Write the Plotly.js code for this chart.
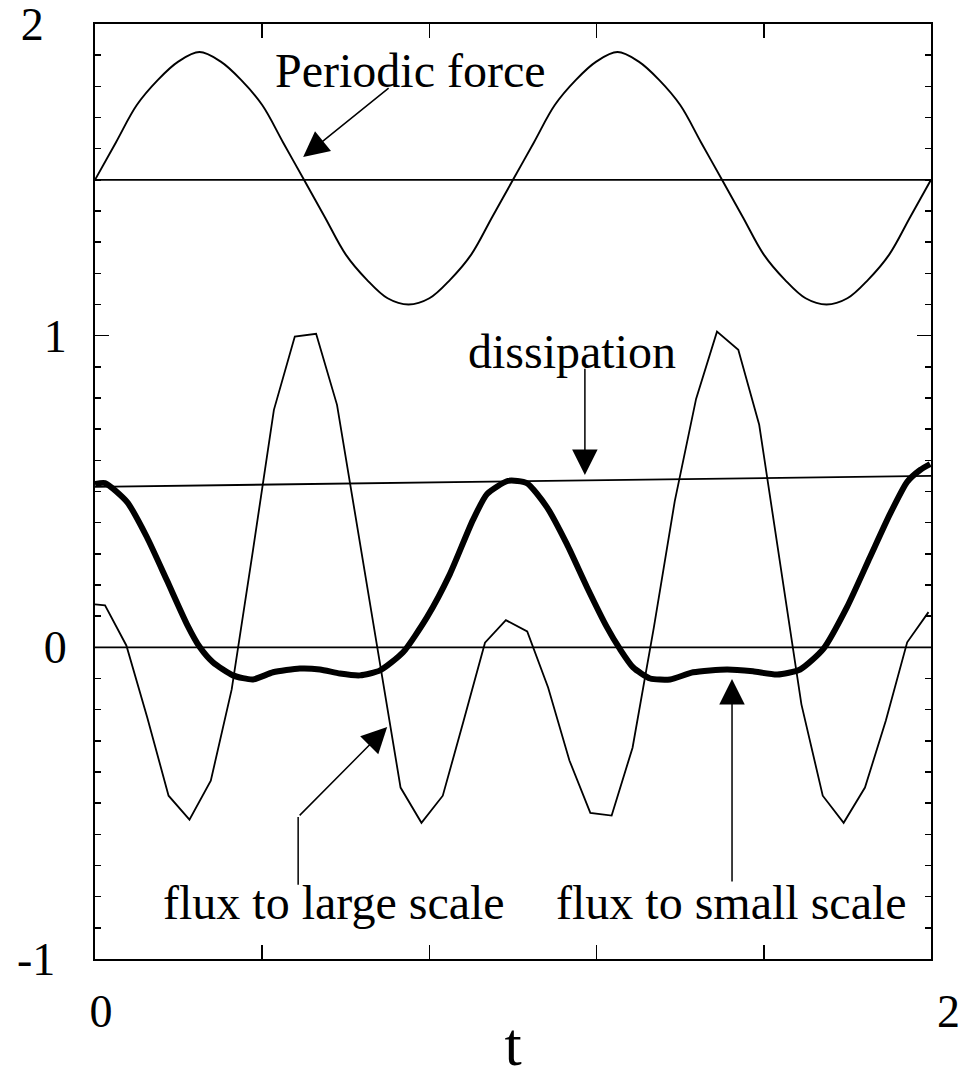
<!DOCTYPE html>
<html>
<head>
<meta charset="utf-8">
<script src="https://cdn.plot.ly/plotly-3.0.1.min.js"></script>
<style>
  body { margin: 0; background: white; }
  #plot { width: 964px; height: 1078px; }
</style>
</head>
<body>
<div id="plot"></div>
<script>
// periodic force (thin sine around 1.5)
var tForce = [0, 0.05, 0.1, 0.15, 0.2, 0.25, 0.3, 0.35, 0.4, 0.45, 0.5, 0.55, 0.6, 0.65, 0.7, 0.75, 0.8, 0.85, 0.9, 0.95,
  1.0, 1.05, 1.1, 1.15, 1.2, 1.25, 1.3, 1.35, 1.4, 1.45, 1.5, 1.55, 1.6, 1.65, 1.7, 1.75, 1.8, 1.85, 1.9, 1.95, 2.0];
var force = [1.50, 1.62, 1.74, 1.82, 1.88, 1.91, 1.88, 1.82, 1.74, 1.62, 1.50, 1.38, 1.26, 1.18, 1.12, 1.10, 1.12, 1.18, 1.26, 1.38,
  1.50, 1.62, 1.74, 1.82, 1.88, 1.91, 1.88, 1.82, 1.74, 1.62, 1.50, 1.38, 1.26, 1.18, 1.12, 1.10, 1.12, 1.18, 1.26, 1.38, 1.50];

// flux to large scale (thin, jagged)
var tLarge = [0, 0.024, 0.075, 0.125, 0.176, 0.226, 0.277, 0.327, 0.378, 0.428, 0.478, 0.529, 0.579, 0.630, 0.680,
  0.731, 0.781, 0.832, 0.882, 0.933, 0.983, 1.034, 1.084, 1.135, 1.185, 1.236, 1.286, 1.337, 1.387, 1.438,
  1.488, 1.539, 1.589, 1.640, 1.690, 1.741, 1.791, 1.842, 1.892, 1.943, 1.994];
var fluxLarge = [0.138, 0.135, 0.006, -0.225, -0.476, -0.553, -0.428, -0.135, 0.312, 0.762, 0.997, 1.006, 0.778, 0.37, -0.03,
  -0.450, -0.563, -0.476, -0.235, 0.015, 0.087, 0.051, -0.129, -0.363, -0.531, -0.540, -0.322, 0.064, 0.469, 0.797,
  1.013, 0.955, 0.714, 0.254, -0.183, -0.476, -0.563, -0.450, -0.235, 0.016, 0.113];

// flux to small scale (thick)
var tSmall = [0, 0.024, 0.077, 0.124, 0.172, 0.22, 0.251, 0.282, 0.33, 0.378, 0.426, 0.49, 0.538, 0.586, 0.634,
  0.682, 0.737, 0.794, 0.849, 0.904, 0.938, 0.988, 1.033, 1.081, 1.129, 1.177, 1.225, 1.256, 1.287, 1.328,
  1.376, 1.431, 1.512, 1.574, 1.632, 1.687, 1.742, 1.799, 1.854, 1.902, 1.943, 1.974, 1.998];
var fluxSmall = [0.524, 0.527, 0.466, 0.354, 0.215, 0.074, 0, -0.048, -0.09, -0.103, -0.08, -0.068, -0.071, -0.084, -0.09,
  -0.074, -0.016, 0.096, 0.235, 0.408, 0.492, 0.534, 0.527, 0.45, 0.331, 0.193, 0.064, -0.006, -0.064, -0.1,
  -0.103, -0.08, -0.071, -0.077, -0.087, -0.071, -0.006, 0.129, 0.289, 0.428, 0.531, 0.569, 0.588];

// straight reference lines
var tEnds = [0, 2];
var forceMean = [1.5, 1.5];
var dissipation = [0.515, 0.55];
var zeroLine = [0, 0];

// tick labels
var xTickVals = [0, 0.4, 0.8, 1.2, 1.6, 2];
var xTickText = ['0', '', '', '', '', '\u00a0\u00a02'];
var yTickVals = [-1, 0, 1, 2];
var yTickText = ['-1\u00a0', '0', '1', '2\u00a0\u00a0'];

var thin = {color: 'black', width: 1.8};

var data = [
  {x: tForce, y: force, mode: 'lines', line: {color: 'black', width: 1.9, shape: 'spline'}},
  {x: tEnds, y: forceMean, mode: 'lines', line: thin},
  {x: tEnds, y: dissipation, mode: 'lines', line: thin},
  {x: tEnds, y: zeroLine, mode: 'lines', line: thin},
  {x: tLarge, y: fluxLarge, mode: 'lines', line: thin},
  {x: tSmall, y: fluxSmall, mode: 'lines', line: {color: 'black', width: 6, shape: 'spline', smoothing: 0.6}}
];

var serif = '"Liberation Serif", "Times New Roman", serif';
var txtFont = {family: serif, size: 48, color: 'black'};

function label(x, y, text) {
  return {x: x, y: y, xref: 'x', yref: 'y', text: text, showarrow: false, font: txtFont,
    xanchor: 'center', yanchor: 'middle'};
}
function arrow(x, y, ax, ay) {
  return {x: x, y: y, ax: ax, ay: ay, xref: 'x', yref: 'y', axref: 'x', ayref: 'y', text: '',
    showarrow: true, arrowhead: 2, arrowsize: 3.4, arrowwidth: 1.5, arrowcolor: 'black', standoff: 0};
}

var layout = {
  width: 964, height: 1078,
  margin: {l: 95, r: 33, t: 24, b: 119},
  paper_bgcolor: 'white', plot_bgcolor: 'white',
  showlegend: false,
  font: {family: serif, size: 46, color: 'black'},
  xaxis: {
    range: [0, 2],
    tickmode: 'array', tickvals: xTickVals, ticktext: xTickText,
    ticks: 'inside', ticklen: 14, tickwidth: 1.5, tickcolor: 'black',
    showline: true, linewidth: 2, linecolor: 'black', mirror: 'ticks',
    showgrid: false, zeroline: false,
    ticklabelstandoff: 11, ticklabelshift: 6, ticklabeloverflow: 'allow',
    title: {text: 't', font: {size: 62}, standoff: 33}
  },
  yaxis: {
    range: [-1, 2],
    tickmode: 'array', tickvals: yTickVals, ticktext: yTickText,
    ticks: 'inside', ticklen: 14, tickwidth: 1.5, tickcolor: 'black',
    minor: {tickmode: 'linear', tick0: 0, dtick: 0.1, ticks: 'inside', ticklen: 6, tickwidth: 1.5, tickcolor: 'black'},
    showline: true, linewidth: 2, linecolor: 'black', mirror: 'ticks',
    showgrid: false, zeroline: false,
    ticklabelstandoff: 17, ticklabeloverflow: 'allow'
  },
  shapes: [
    {type: 'line', xref: 'x', yref: 'y', x0: 0.486, x1: 0.486, y0: -0.762, y1: -0.544, line: {color: 'black', width: 1.5}}
  ],
  annotations: [
    label(0.754, 1.85, 'Periodic force'),
    arrow(0.498, 1.573, 0.706, 1.798),
    label(1.141, 0.95, 'dissipation'),
    arrow(1.172, 0.553, 1.172, 0.899),
    label(0.571, -0.82, 'flux to large scale'),
    arrow(0.699, -0.256, 0.486, -0.544),
    label(1.522, -0.82, 'flux to small scale'),
    arrow(1.524, -0.102, 1.524, -0.756)
  ]
};

Plotly.newPlot('plot', data, layout, {displayModeBar: false, staticPlot: true});
</script>
</body>
</html>
